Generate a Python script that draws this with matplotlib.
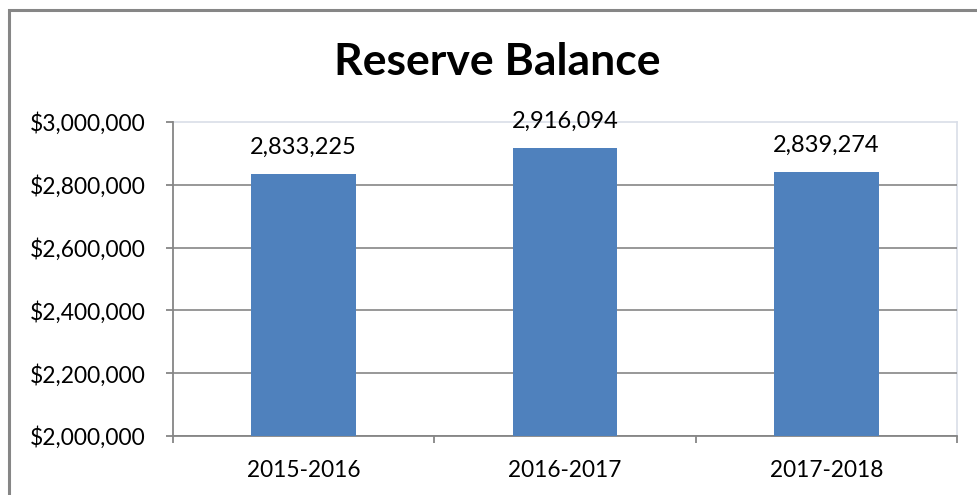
import matplotlib.pyplot as plt
from matplotlib.ticker import FuncFormatter, FixedLocator
from matplotlib.patches import Rectangle

# chart data
years = ["2015-2016", "2016-2017", "2017-2018"]
balance = [2833225, 2916094, 2839274]
y_ticks = [2000000, 2200000, 2400000, 2600000, 2800000, 3000000]

plt.rcParams['font.family'] = ['Lato', 'DejaVu Sans']

fig = plt.figure(figsize=(9.77, 4.95), dpi=100)
W, H = 977, 495
ax = fig.add_axes([173 / W, 1 - 436 / H, (957 - 173) / W, (436 - 122) / H])

# outer chart border (left + top visible)
fig.patches.append(Rectangle((9 / W, -0.1), 1.2, 1 - 10 / H + 0.1, transform=fig.transFigure,
                             fill=False, edgecolor='#868686', linewidth=2.2))

x = range(len(years))
ax.bar(x, balance, width=0.4, color='#4F81BD', zorder=3)
for i, v in zip(x, balance):
    ax.annotate(f"{v:,}", (i, v), xytext=(0, 12), textcoords='offset points',
                ha='center', va='bottom', fontsize=17, zorder=10, annotation_clip=False)

ax.set_xlim(-0.5, len(years) - 0.5)
ax.set_ylim(y_ticks[0], y_ticks[-1])
ax.set_yticks(y_ticks)
ax.yaxis.set_major_formatter(FuncFormatter(lambda v, p: f"${v:,.0f}"))
ax.set_xticks(list(x))
ax.set_xticklabels(years)
ax.xaxis.set_minor_locator(FixedLocator([-0.5, 0.5, 1.5, 2.5]))
ax.tick_params(axis='x', which='major', length=0, labelsize=16.3, pad=17)
ax.tick_params(axis='x', which='minor', length=5, color='#868686', width=1.3)
ax.tick_params(axis='y', length=5, color='#868686', width=1.3, labelsize=16.4, pad=15)

ax.grid(axis='y', color='#868686', linewidth=1.2, zorder=0)
ax.get_ygridlines()[-1].set_visible(False)
for s in ['top', 'right']:
    ax.spines[s].set_color('#D9DEE8')
    ax.spines[s].set_linewidth(1.2)
    ax.spines[s].set_zorder(0.5)
for s in ['left', 'bottom']:
    ax.spines[s].set_color('#868686')
    ax.spines[s].set_linewidth(1.3)

fig.text(497 / W, 1 - 62 / H, "Reserve Balance", ha='center', va='center',
         fontsize=32, fontweight='bold')

fig.savefig("out.png", dpi=100)
